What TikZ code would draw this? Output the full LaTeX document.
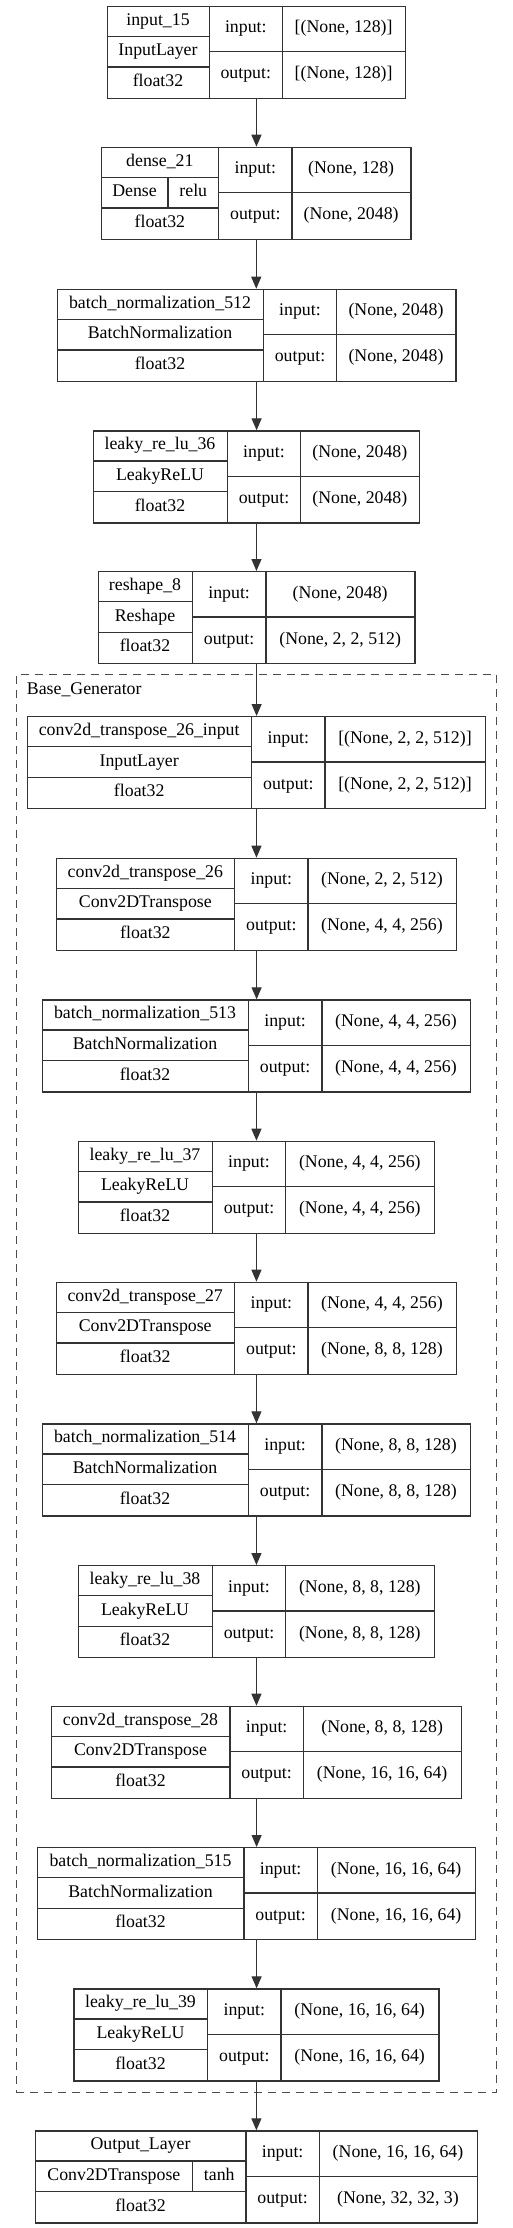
\documentclass[tikz,border=0pt]{standalone}
\usepackage{fontspec}
\setmainfont{Liberation Serif}
\usetikzlibrary{arrows.meta}

\tikzset{
  layerbox/.style={draw=black!80, line width=1.2pt, inner sep=0pt, anchor=north west, minimum height=92pt},
  rule/.style={draw=black!80, line width=1.2pt},
  cell/.style={inner sep=0pt, text height=12.5pt, text depth=4pt, font=\fontsize{17.8}{20}\selectfont},
  flow/.style={draw=black!80, line width=1.2pt, -{Triangle[length=12pt,width=10pt]}},
  cluster/.style={draw=black!70, line width=1.3pt, dash pattern=on 8pt off 6pt, inner sep=0pt, anchor=north west}
}

\begin{document}
\begin{tikzpicture}[x=1pt,y=-1pt]
\useasboundingbox (0,0) rectangle (512,2228);

% Base_Generator
\node[cluster, minimum width=480.3pt, minimum height=1417.7pt] (gen) at (15.7,674) {};
\node[cell, anchor=west] (gen-label) at (26.7,690) {Base\_Generator};

% id / top / left / split / split / right / name / class / input / output
\foreach \id/\yt/\xl/\xa/\xb/\xr/\nm/\ty/\ins/\outs in {
  b1/5.7/106.7/209.3/282.3/405/input\_15/InputLayer/{[(None, 128)]}/{[(None, 128)]},
  b2/146.7/101/218.7/292/410.3/dense\_21/{}/{(None, 128)}/{(None, 2048)},
  b3/288.7/56.7/263.3/336.7/455.3/batch\_normalization\_512/BatchNormalization/{(None, 2048)}/{(None, 2048)},
  b4/430.3/92.7/227.3/300.7/419/leaky\_re\_lu\_36/LeakyReLU/{(None, 2048)}/{(None, 2048)},
  b5/571/97.7/192.3/266/414.3/reshape\_8/Reshape/{(None, 2048)}/{(None, 2, 2, 512)},
  b6/716/26.7/251.7/325/485/conv2d\_transpose\_26\_input/InputLayer/{[(None, 2, 2, 512)]}/{[(None, 2, 2, 512)]},
  b7/857.7/56/234.7/308/456/conv2d\_transpose\_26/Conv2DTranspose/{(None, 2, 2, 512)}/{(None, 4, 4, 256)},
  b8/999.3/41.7/248.3/322/470/batch\_normalization\_513/BatchNormalization/{(None, 4, 4, 256)}/{(None, 4, 4, 256)},
  b9/1140.7/77.7/212.3/285.7/434/leaky\_re\_lu\_37/LeakyReLU/{(None, 4, 4, 256)}/{(None, 4, 4, 256)},
  b10/1281.7/55.7/234.7/308/456/conv2d\_transpose\_27/Conv2DTranspose/{(None, 4, 4, 256)}/{(None, 8, 8, 128)},
  b11/1423.3/41.7/248.3/322/470/batch\_normalization\_514/BatchNormalization/{(None, 8, 8, 128)}/{(None, 8, 8, 128)},
  b12/1565/77.7/212.3/285.7/434/leaky\_re\_lu\_38/LeakyReLU/{(None, 8, 8, 128)}/{(None, 8, 8, 128)},
  b13/1705.7/51/230/303.3/461/conv2d\_transpose\_28/Conv2DTranspose/{(None, 8, 8, 128)}/{(None, 16, 16, 64)},
  b14/1847/37/244/317.3/475/batch\_normalization\_515/BatchNormalization/{(None, 16, 16, 64)}/{(None, 16, 16, 64)},
  b15/1988.3/73.3/207.7/281/438.3/leaky\_re\_lu\_39/LeakyReLU/{(None, 16, 16, 64)}/{(None, 16, 16, 64)},
  b16/2130.3/35/246/319.3/476.7/Output\_Layer/{}/{(None, 16, 16, 64)}/{(None, 32, 32, 3)}}
{
  \node[layerbox, minimum width={(\xr-\xl)*1pt}] (\id) at (\xl,\yt) {};
  \draw[rule] (\xa,\yt) -- ++(0,92) (\xb,\yt) -- ++(0,92)
    (\xl,\yt+30.67) -- (\xa,\yt+30.67) (\xl,\yt+61.33) -- (\xa,\yt+61.33)
    (\xa,\yt+46) -- (\xr,\yt+46);
  \node[cell] (\id-name) at ({(\xl+\xa)/2},\yt+15.33) {\nm};
  \node[cell] (\id-cls) at ({(\xl+\xa)/2},\yt+46) {\ty};
  \node[cell] (\id-dt) at ({(\xl+\xa)/2},\yt+76.67) {float32};
  \node[cell] (\id-inl) at ({(\xa+\xb)/2},\yt+23) {input:};
  \node[cell] (\id-outl) at ({(\xa+\xb)/2},\yt+69) {output:};
  \node[cell] (\id-in) at ({(\xb+\xr)/2},\yt+23) {\ins};
  \node[cell] (\id-out) at ({(\xb+\xr)/2},\yt+69) {\outs};
}

% class | activation
\draw[rule] (168,177.37) -- (168,208.03);
\node[cell] (b2-type) at (134.5,192.7) {Dense};
\node[cell] (b2-act) at (193.3,192.7) {relu};
\draw[rule] (192.7,2161) -- (192.7,2191.6);
\node[cell] (b16-type) at (113.9,2176.3) {Conv2DTranspose};
\node[cell] (b16-act) at (219.3,2176.3) {tanh};

\foreach \i/\j in {b1/b2,b2/b3,b3/b4,b4/b5,b5/b6,b6/b7,b7/b8,b8/b9,b9/b10,b10/b11,b11/b12,b12/b13,b13/b14,b14/b15,b15/b16}
  \draw[flow] (\i.south) -- (\i.south |- \j.north);

\end{tikzpicture}
\end{document}
